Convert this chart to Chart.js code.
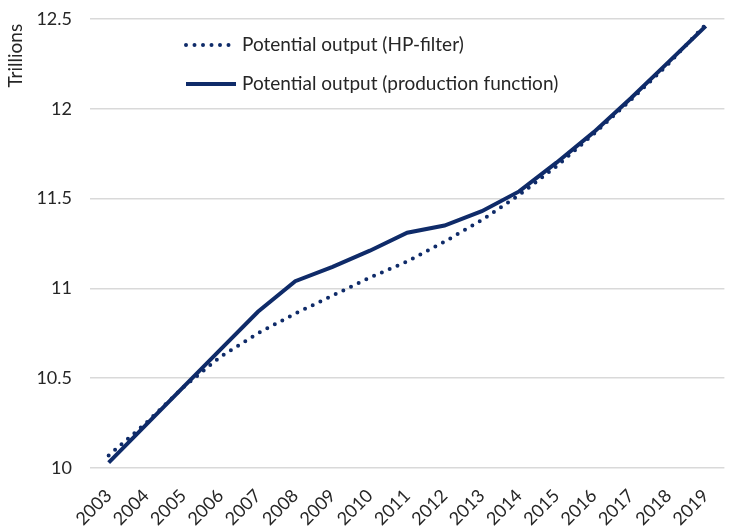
<!DOCTYPE html>
<html>
<head>
<meta charset="utf-8">
<script src="https://cdn.jsdelivr.net/npm/chart.js@4"></script>
<style>
  body { margin: 0; background: #fff; }
  #wrap { width: 730px; height: 528px; }
</style>
</head>
<body>
<div id="wrap"><canvas id="myChart"></canvas></div>
<script>
var years = ['2003','2004','2005','2006','2007','2008','2009','2010','2011','2012','2013','2014','2015','2016','2017','2018','2019'];
var hpFilter = [10.07, 10.25, 10.45, 10.62, 10.75, 10.86, 10.96, 11.06, 11.15, 11.26, 11.38, 11.52, 11.68, 11.86, 12.05, 12.25, 12.47];
var prodFunction = [10.03, 10.24, 10.45, 10.66, 10.87, 11.04, 11.12, 11.21, 11.31, 11.35, 11.43, 11.54, 11.70, 11.87, 12.06, 12.26, 12.46];
var yTicks = [10, 10.5, 11, 11.5, 12, 12.5];

var navy = '#0f2b69';
var textColor = '#262626';
var font = 'Lato, "Open Sans", sans-serif';

// legend drawn inside the plot area, stacked vertically
var insideLegend = {
    id: 'insideLegend',
    afterDraw: function(chart) {
        var c = chart.ctx;
        var items = chart.data.datasets;
        c.save();
        c.font = '19px ' + font;
        c.textBaseline = 'middle';
        items.forEach(function(ds, i) {
            var y = 45 + i * 39;
            c.strokeStyle = ds.borderColor;
            c.lineWidth = ds.borderWidth;
            c.lineCap = ds.borderCapStyle || 'butt';
            c.setLineDash(ds.borderDash || []);
            c.beginPath();
            c.moveTo(186, y);
            c.lineTo(236, y);
            c.stroke();
            c.setLineDash([]);
            c.fillStyle = textColor;
            c.fillText(ds.label, 242, y);
        });
        c.restore();
    }
};

var ctx = document.getElementById('myChart').getContext('2d');
var chart = new Chart(ctx, {
    type: 'line',
    data: {
        labels: years,
        datasets: [{
            label: 'Potential output (HP-filter)',
            data: hpFilter,
            borderColor: navy,
            borderWidth: 4,
            borderDash: [0, 8.5],
            borderCapStyle: 'round',
            pointRadius: 0,
            fill: false
        }, {
            label: 'Potential output (production function)',
            data: prodFunction,
            borderColor: navy,
            borderWidth: 4,
            pointRadius: 0,
            fill: false
        }]
    },
    options: {
        responsive: true,
        maintainAspectRatio: false,
        animation: false,
        layout: { padding: { top: 19, right: 0, bottom: 0, left: 0 } },
        plugins: {
            legend: { display: false },
            tooltip: { enabled: false }
        },
        scales: {
            x: {
                offset: true,
                grid: { display: false },
                border: { display: false },
                ticks: {
                    color: textColor,
                    font: { family: font, size: 18 },
                    minRotation: 45,
                    maxRotation: 45,
                    autoSkip: false,
                    padding: 9
                },
                afterFit: function(axis) { axis.height = 60; }
            },
            y: {
                min: 10,
                max: 12.5,
                afterBuildTicks: function(axis) {
                    axis.ticks = yTicks.map(function(v) { return { value: v }; });
                },
                afterFit: function(axis) {
                    axis.width = 90;
                    axis.paddingTop = 0;
                    axis.paddingBottom = 0;
                },
                grid: { color: '#d9d9d9', lineWidth: 1.5, drawTicks: false },
                border: { display: false },
                ticks: {
                    color: textColor,
                    font: { family: font, size: 18 },
                    padding: 18,
                    callback: function(v) { return String(v); }
                },
                title: {
                    display: true,
                    text: 'Trillions ',
                    align: 'end',
                    color: textColor,
                    font: { family: font, size: 19 },
                    padding: { top: 4, bottom: 0 }
                }
            }
        }
    },
    plugins: [insideLegend]
});
</script>
</body>
</html>
